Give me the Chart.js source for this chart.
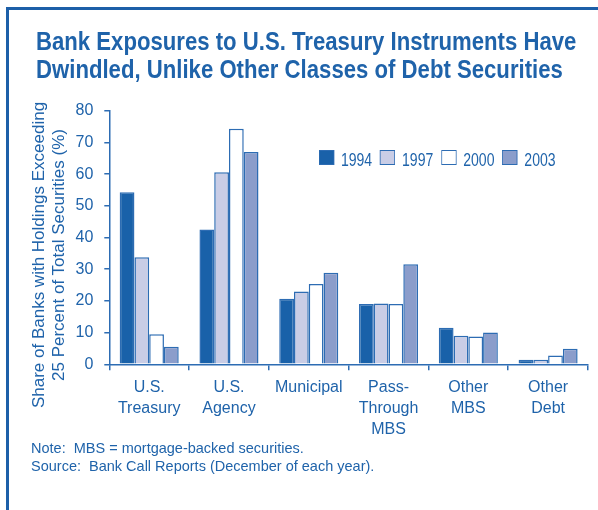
<!DOCTYPE html>
<html>
<head>
<meta charset="utf-8">
<script src="https://cdn.jsdelivr.net/npm/chart.js@4/dist/chart.umd.min.js"></script>
<style>
  body { margin: 0; background: #fff; }
  #pagina { position: relative; width: 598px; height: 510px; overflow: hidden; color: #1f63aa; }
  #moldura { position: absolute; left: 6px; top: 7px; width: 700px; height: 700px;
             border-left: 3px solid #1c5fa8; border-top: 3px solid #1c5fa8; }
  #grafico { position: absolute; left: 0; top: 0; }
  /* fonte condensada simulada com scaleX */
  #titulo { position: absolute; left: 36px; top: 28.2px; font: bold 25px "Liberation Sans", Arial, sans-serif;
            line-height: 27.6px; white-space: nowrap; transform: scaleX(0.886); transform-origin: 0 0; }
  #eixoY { position: absolute; left: -111px; top: 235px; width: 320px; height: 40px; text-align: center;
           font: 17px "Liberation Sans", Arial, sans-serif; line-height: 20px; transform: rotate(-90deg); white-space: nowrap; }
  #legenda { position: absolute; left: 319px; top: 146px; display: flex; align-items: center;
             font: 18.5px "Liberation Sans", Arial, sans-serif; transform: scaleX(0.76); transform-origin: 0 0; }
  #legenda .item { display: flex; align-items: center; margin-right: 10.5px; }
  #legenda .caixa { width: 18px; height: 13px; border: 1.5px solid #2d6cb3; margin-right: 8.8px; }
  #legenda span { position: relative; top: 3px; }
  #notas { position: absolute; left: 31px; top: 440px; font: 14.5px "Liberation Sans", Arial, sans-serif; line-height: 17.5px; white-space: pre; }
</style>
</head>
<body>
<div id="pagina">
  <div id="moldura"></div>
  <canvas id="grafico" width="598" height="510"></canvas>
  <div id="titulo">Bank Exposures to U.S. Treasury Instruments Have<br>Dwindled, Unlike Other Classes of Debt Securities</div>
  <div id="eixoY">Share of Banks with Holdings Exceeding<br>25 Percent of Total Securities (%)</div>
  <div id="legenda"></div>
  <div id="notas">Note:  MBS = mortgage-backed securities.
Source:  Bank Call Reports (December of each year).</div>
</div>
<script>
// Categorias de títulos e anos
const categorias = [
  ["U.S.", "Treasury"],
  ["U.S.", "Agency"],
  "Municipal",
  ["Pass-", "Through", "MBS"],
  ["Other", "MBS"],
  ["Other", "Debt"]
];
const anos = ["1994", "1997", "2000", "2003"];

// Percentual de bancos por ano (mesma ordem das categorias)
const valores1994 = [54.3, 42.5, 20.7, 19.0, 11.5, 1.4];
const valores1997 = [33.8, 60.6, 23.0, 19.2, 9.0, 1.4];
const valores2000 = [9.5, 74.3, 25.3, 19.0, 8.8, 2.8];
const valores2003 = [5.5, 67.0, 28.9, 31.6, 10.0, 4.9];

const ticksY = [0, 10, 20, 30, 40, 50, 60, 70, 80];

const azul = "#1f63aa";
const borda = "#2d6cb3";
const cores = ["#1961a9", "#c9cde6", "#ffffff", "#8b9dcb"];
const series = [valores1994, valores1997, valores2000, valores2003];

const datasets = anos.map((ano, i) => ({
  label: ano,
  data: series[i],
  backgroundColor: cores[i],
  borderColor: borda,
  borderWidth: 1.5,
  categoryPercentage: 0.74,
  barPercentage: 1.0
}));

const ctx = document.getElementById("grafico").getContext("2d");

const grafico = new Chart(ctx, {
  type: "bar",
  data: { labels: categorias, datasets: datasets },
  options: {
    responsive: false,
    animation: false,
    layout: { padding: { left: 0, top: 110.7, right: 10, bottom: 10 } },
    plugins: {
      legend: { display: false },
      tooltip: { enabled: false }
    },
    scales: {
      x: {
        grid: { drawOnChartArea: false, color: borda, tickLength: 6, lineWidth: 1.5, offset: true },
        border: { color: borda, width: 1.5 },
        ticks: {
          color: azul,
          padding: 7,
          maxRotation: 0,
          autoSkip: false,
          font: { family: "Liberation Sans", size: 16, lineHeight: 1.3 }
        },
        // altura fixa para o eixo ficar em y ≈ 364
        afterFit: (escala) => { escala.height = 510 - 364.3 - 10; }
      },
      y: {
        min: 0,
        max: 80,
        afterBuildTicks: (escala) => { escala.ticks = ticksY.map(v => ({ value: v })); },
        grid: { drawOnChartArea: false, color: borda, tickLength: 5, lineWidth: 1.5 },
        border: { color: borda, width: 1.5 },
        ticks: {
          color: azul,
          padding: 11,
          font: { family: "Liberation Sans", size: 16 }
        },
        afterFit: (escala) => { escala.width = 109.3; }
      }
    }
  }
});

// Legenda montada a partir dos datasets
const legenda = document.getElementById("legenda");
grafico.data.datasets.forEach(ds => {
  const item = document.createElement("div");
  item.className = "item";
  const caixa = document.createElement("div");
  caixa.className = "caixa";
  caixa.style.background = ds.backgroundColor;
  const texto = document.createElement("span");
  texto.textContent = ds.label;
  item.appendChild(caixa);
  item.appendChild(texto);
  legenda.appendChild(item);
});
</script>
</body>
</html>
